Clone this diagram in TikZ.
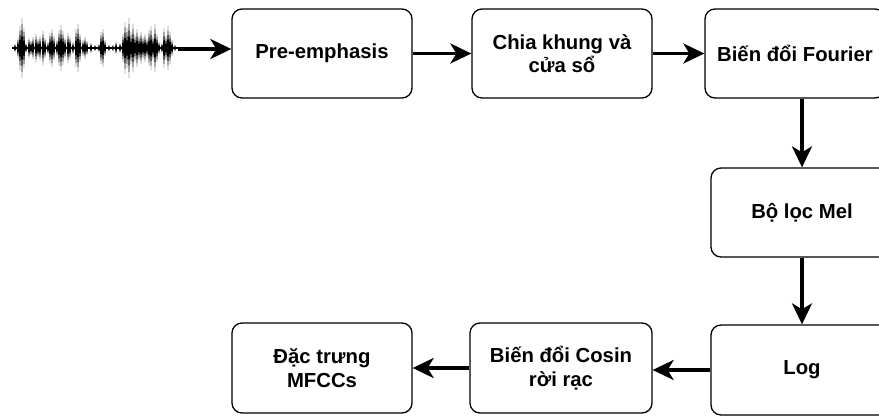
\documentclass[tikz,border=0pt]{standalone}
\usepackage{fontspec}
\setmainfont{Liberation Sans}
\usetikzlibrary{arrows.meta}
\begin{document}
\begin{tikzpicture}[x=1pt,y=-1pt,
  box/.style={draw=black, line width=1.3pt, rounded corners=10pt, fill=white,
    minimum width=180pt, minimum height=89pt, align=center, inner sep=2pt,
    font=\fontsize{20.3}{23.5}\selectfont\bfseries},
  flow/.style={line width=3.3pt, -{Stealth[length=21pt,width=20pt,inset=6pt]}}]
\useasboundingbox (0,0) rectangle (879,416);
% waveform
\draw[line width=1.6pt, black] (12,48) -- (178,48);
\foreach \x/\a in {15/4,18/10,20/22,22/30,24/20,26/5,29/10,31/7,33/11,36/14,38/9,40/12,43/17,45/10,48/6,50/15,52/19,54/12,57/8,59/18,61/23,63/17,65/10,68/15,70/11,73/6,76/19,78/24,80/14,83/8,85/11,87/7,91/5,95/3,99/4,101/16,103/19,105/8,109/3,113/3,116/6,120/5,123/14,125/26,127/20,129/30,131/16,133/24,135/13,137/19,139/12,141/16,143/11,145/14,147/9,149/18,151/22,153/12,155/24,157/14,159/6,162/5,164/20,166/12,168/22,170/16,172/8,175/3}
  {\fill[black] (\x,48-\a) -- (\x+1.2,48) -- (\x,48+\a) -- (\x-1.2,48) -- cycle;}
\coordinate (wend) at (178,49);
% boxes
\node[box] (pre) at (322,53.5) {Pre-emphasis};
\node[box] (chia) at (562,53.5) {Chia khung và\\cửa sổ};
\node[box] (fourier) at (795,53.5) {Biến đổi Fourier};
\node[box, minimum width=182pt] (mel) at (802,212.5) {Bộ lọc Mel};
\node[box, minimum width=182pt, minimum height=90pt] (log) at (802,370) {Log};
\node[box, minimum width=182pt, minimum height=90pt] (cosin) at (561,368) {Biến đổi Cosin\\rời rạc};
\node[box, minimum height=90pt] (mfcc) at (322,368) {Đặc trưng\\MFCCs};
% connectors
\draw[flow] (wend) -- (wend -| pre.west);
\draw[flow] (pre.east) -- (chia.west);
\draw[flow] (chia.east) -- (fourier.west);
\draw[flow] (fourier.south -| mel.north) -- (mel.north);
\draw[flow] (mel.south) -- (log.north);
\draw[flow] (log.west) -- (log.west -| cosin.east);
\draw[flow] (cosin.west) -- (mfcc.east);
\end{tikzpicture}
\end{document}
